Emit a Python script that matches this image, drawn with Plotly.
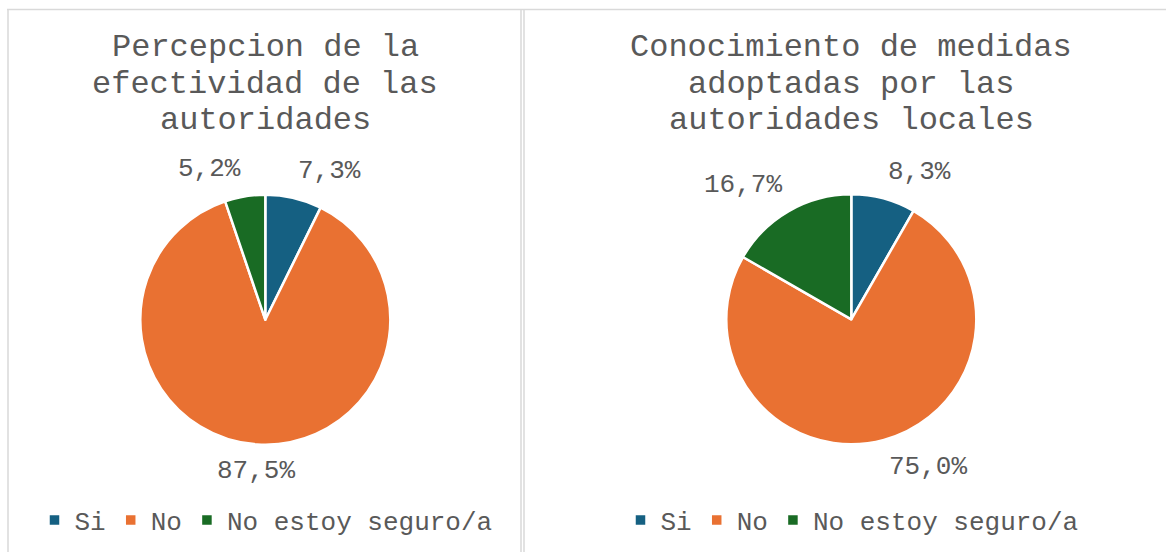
import math
import plotly.graph_objects as go

W, H = 1167, 552

categories = ["Si", "No", "No estoy seguro/a"]
colors = ["#156082", "#E97132", "#196B24"]

title_left = ["Percepcion de la", "efectividad de las", "autoridades"]
values_left = [7.3, 87.5, 5.2]

title_right = ["Conocimiento de medidas", "adoptadas por las", "autoridades locales"]
values_right = [8.3, 75.0, 16.7]

FONT = "Courier New, Liberation Mono, monospace"
GRAY = "#595959"

R = 125            # pie radius in px
LABEL_GAP = 10     # distance of data labels from pie edge in px
TITLE_Y0 = 47      # first title line centre (px from top)
TITLE_LH = 37      # title line height (px)


def fmt(v):
    return f"{v:.1f}".replace(".", ",") + "%"


def px_domain(cx, cy, r):
    return dict(x=[(cx - r) / W, (cx + r) / W], y=[(H - cy - r) / H, (H - cy + r) / H])


def label_annotations(vals, cx, cy):
    """Outside-end data labels placed from each slice's mid angle (clockwise from 12 o'clock)."""
    total = sum(vals)
    anns = []
    acc = 0.0
    for v in vals:
        mid = (acc + v / 2) / total * 2 * math.pi
        acc += v
        sx, cy_dir = math.sin(mid), math.cos(mid)
        px = cx + (R + LABEL_GAP) * sx
        py = cy - (R + LABEL_GAP) * cy_dir
        xanchor = "left" if sx > 0.1 else ("right" if sx < -0.1 else "center")
        yanchor = "bottom" if cy_dir > 0 else "top"
        anns.append(dict(text=fmt(v), x=px / W, y=1 - py / H, xref="paper", yref="paper",
                         xanchor=xanchor, yanchor=yanchor, showarrow=False,
                         font=dict(family=FONT, size=26, color=GRAY)))
    return anns


panels = [
    (title_left, values_left, 265.3, 319.7, "legend", "left"),
    (title_right, values_right, 851.3, 319.3, "legend2", "right"),
]

fig = go.Figure()
annotations = []
for title, vals, cx, cy, leg, grp in panels:
    fig.add_trace(go.Pie(
        labels=categories,
        values=vals,
        textinfo="none",
        marker=dict(colors=colors, line=dict(color="white", width=2.5)),
        sort=False,
        direction="clockwise",
        rotation=0,
        domain=px_domain(cx, cy, R),
        legend=leg,
        legendgroup=grp,
        hoverinfo="label+percent",
    ))
    for i, line in enumerate(title):
        annotations.append(dict(text=line, x=cx / W, y=1 - (TITLE_Y0 + i * TITLE_LH) / H,
                                xref="paper", yref="paper", xanchor="center", yanchor="middle",
                                showarrow=False, font=dict(family=FONT, size=32, color=GRAY)))
    annotations.extend(label_annotations(vals, cx, cy))

border = dict(color="#d9d9d9", width=1.5)
shapes = [
    dict(type="line", xref="paper", yref="paper", x0=7 / W, x1=1166 / W, y0=1 - 9.5 / H, y1=1 - 9.5 / H, line=border),
    dict(type="line", xref="paper", yref="paper", x0=8 / W, x1=8 / W, y0=0, y1=1 - 9.5 / H, line=border),
    dict(type="line", xref="paper", yref="paper", x0=521 / W, x1=521 / W, y0=0, y1=1 - 9.5 / H, line=border),
    dict(type="line", xref="paper", yref="paper", x0=524 / W, x1=524 / W, y0=0, y1=1 - 9.5 / H, line=border),
]

legend_common = dict(orientation="h", xanchor="center", yanchor="middle", traceorder="normal",
                     font=dict(family=FONT, size=26, color=GRAY),
                     bgcolor="rgba(0,0,0,0)", itemclick=False, itemdoubleclick=False)

fig.update_layout(
    width=W, height=H,
    margin=dict(l=0, r=0, t=0, b=0, autoexpand=False),
    paper_bgcolor="white",
    plot_bgcolor="white",
    showlegend=True,
    legend=dict(x=266 / W, y=1 - 520 / H, **legend_common),
    legend2=dict(x=852 / W, y=1 - 520 / H, **legend_common),
    shapes=shapes,
    annotations=annotations,
)

fig.write_html("out.html", post_script="document.body.style.margin='0';",
               config={"displayModeBar": False})
